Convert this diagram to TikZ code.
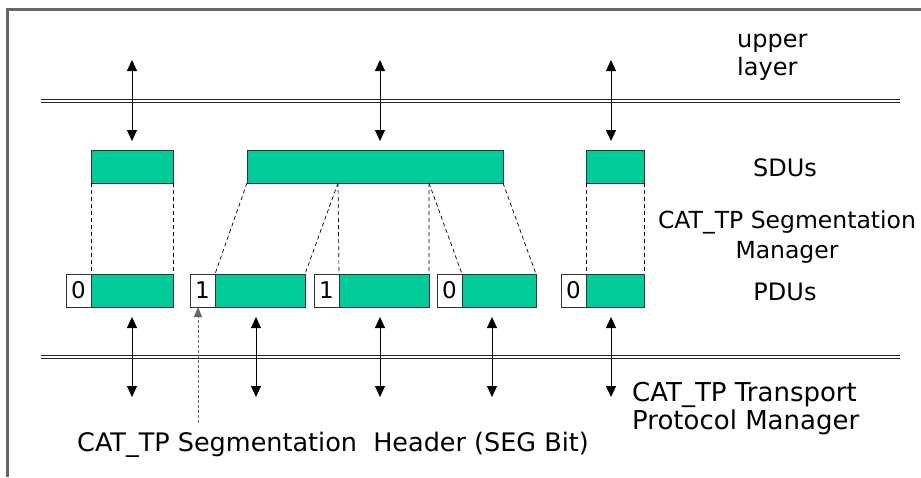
\documentclass[tikz,border=0pt]{standalone}
\usepackage{fontspec}
\setmainfont{DejaVu Sans}
\usetikzlibrary{arrows.meta}
\definecolor{sdugreen}{RGB}{0,204,153}
\tikzset{
  unit/.style={draw=black!80, line width=0.9pt, inner sep=0pt, outer sep=0pt, anchor=north west, minimum height=33pt},
  sdubox/.style={unit, fill=sdugreen},
  hdrbox/.style={unit, fill=white, minimum width=25pt, font=\fontsize{23}{23}\selectfont},
  layerline/.style={black!85, line width=0.9pt},
  updown/.style={{Triangle[length=11pt,width=10pt]}-{Triangle[length=11pt,width=10pt]}, line width=1pt},
  split/.style={dash pattern=on 4pt off 3pt, line width=0.7pt},
  txt/.style={inner sep=0pt, font=\fontsize{24}{28}\selectfont},
}
\begin{document}
\begin{tikzpicture}[x=1pt, y=-1pt]
  \useasboundingbox (0,0) rectangle (921,477);
  % frame and layer boundaries
  \draw[black!60, line width=2.5pt] (7.5,477) -- (7.5,9.5) -- (921,9.5);
  \foreach \y in {99.5,102.5,355.5,358.5}
    \draw[layerline] (41,\y) -- (900,\y);
  % SDUs
  \node[sdubox, minimum width=82pt] (sdu1) at (91,150) {};
  \node[sdubox, minimum width=256pt] (sdu2) at (247,150) {};
  \node[sdubox, minimum width=58pt] (sdu3) at (586,150) {};
  % PDUs: SEG bit header + segment
  \foreach \i/\x/\w/\segbit in {1/66/82/0, 2/190/90/1, 3/314/90/1, 4/437/74/0, 5/561/58/0} {
    \node[hdrbox] (hdr\i) at (\x,274) {\segbit};
    \node[sdubox, minimum width=\w] (pdu\i) at (hdr\i.north east) {};
  }
  % segmentation of the SDUs
  \path (sdu2.south west) ++(91,0) coordinate (cut1) ++(91,0) coordinate (cut2);
  \draw[split] (sdu1.south west) -- (pdu1.north west) (sdu1.south east) -- (pdu1.north east);
  \draw[split] (sdu2.south west) -- (pdu2.north west) (cut1) -- (pdu2.north east);
  \draw[split] (cut1) -- (pdu3.north west) (cut2) -- (pdu3.north east);
  \draw[split] (cut2) -- (pdu4.north west) (sdu2.south east) -- (pdu4.north east);
  \draw[split] (sdu3.south west) -- (pdu5.north west) (sdu3.south east) -- (pdu5.north east);
  % arrows to the upper layer and to the transport manager
  \foreach \x [count=\i] in {132,380,611} {
    \coordinate (up\i) at (\x,60);
    \draw[updown] (up\i) -- ([yshift=9pt]up\i |- sdu1.north);
  }
  \foreach \x [count=\i] in {132,256,380,492,611} {
    \coordinate (dn\i) at (\x,397);
    \draw[updown] ([yshift=-10pt]dn\i |- pdu1.south) -- (dn\i);
  }
  % SEG bit pointer
  \coordinate (segtip) at (198,423);
  \draw[black!60, dash pattern=on 3pt off 2pt, line width=0.8pt, -{Triangle[length=10pt,width=8pt]}] (segtip) -- (segtip |- hdr2.south);
  % labels
  \node[txt, anchor=base west, align=left] (ul) at (737,75) {upper\\layer};
  \node[txt, anchor=base] (sdus) at (785,176.5) {SDUs};
  \node[txt, anchor=base, align=center, font=\fontsize{23.5}{30}\selectfont] (segman) at (787,258) {CAT\_TP Segmentation\\Manager};
  \node[txt, anchor=base] (pdus) at (785,300) {PDUs};
  \node[txt, anchor=base west, align=left, font=\fontsize{26}{28}\selectfont] (tpman) at (632,429.3) {CAT\_TP Transport\\Protocol Manager};
  \node[txt, anchor=base west, font=\fontsize{25.5}{28}\selectfont] (segbit) at (77,451) {CAT\_TP Segmentation~ Header (SEG Bit)};
\end{tikzpicture}
\end{document}
